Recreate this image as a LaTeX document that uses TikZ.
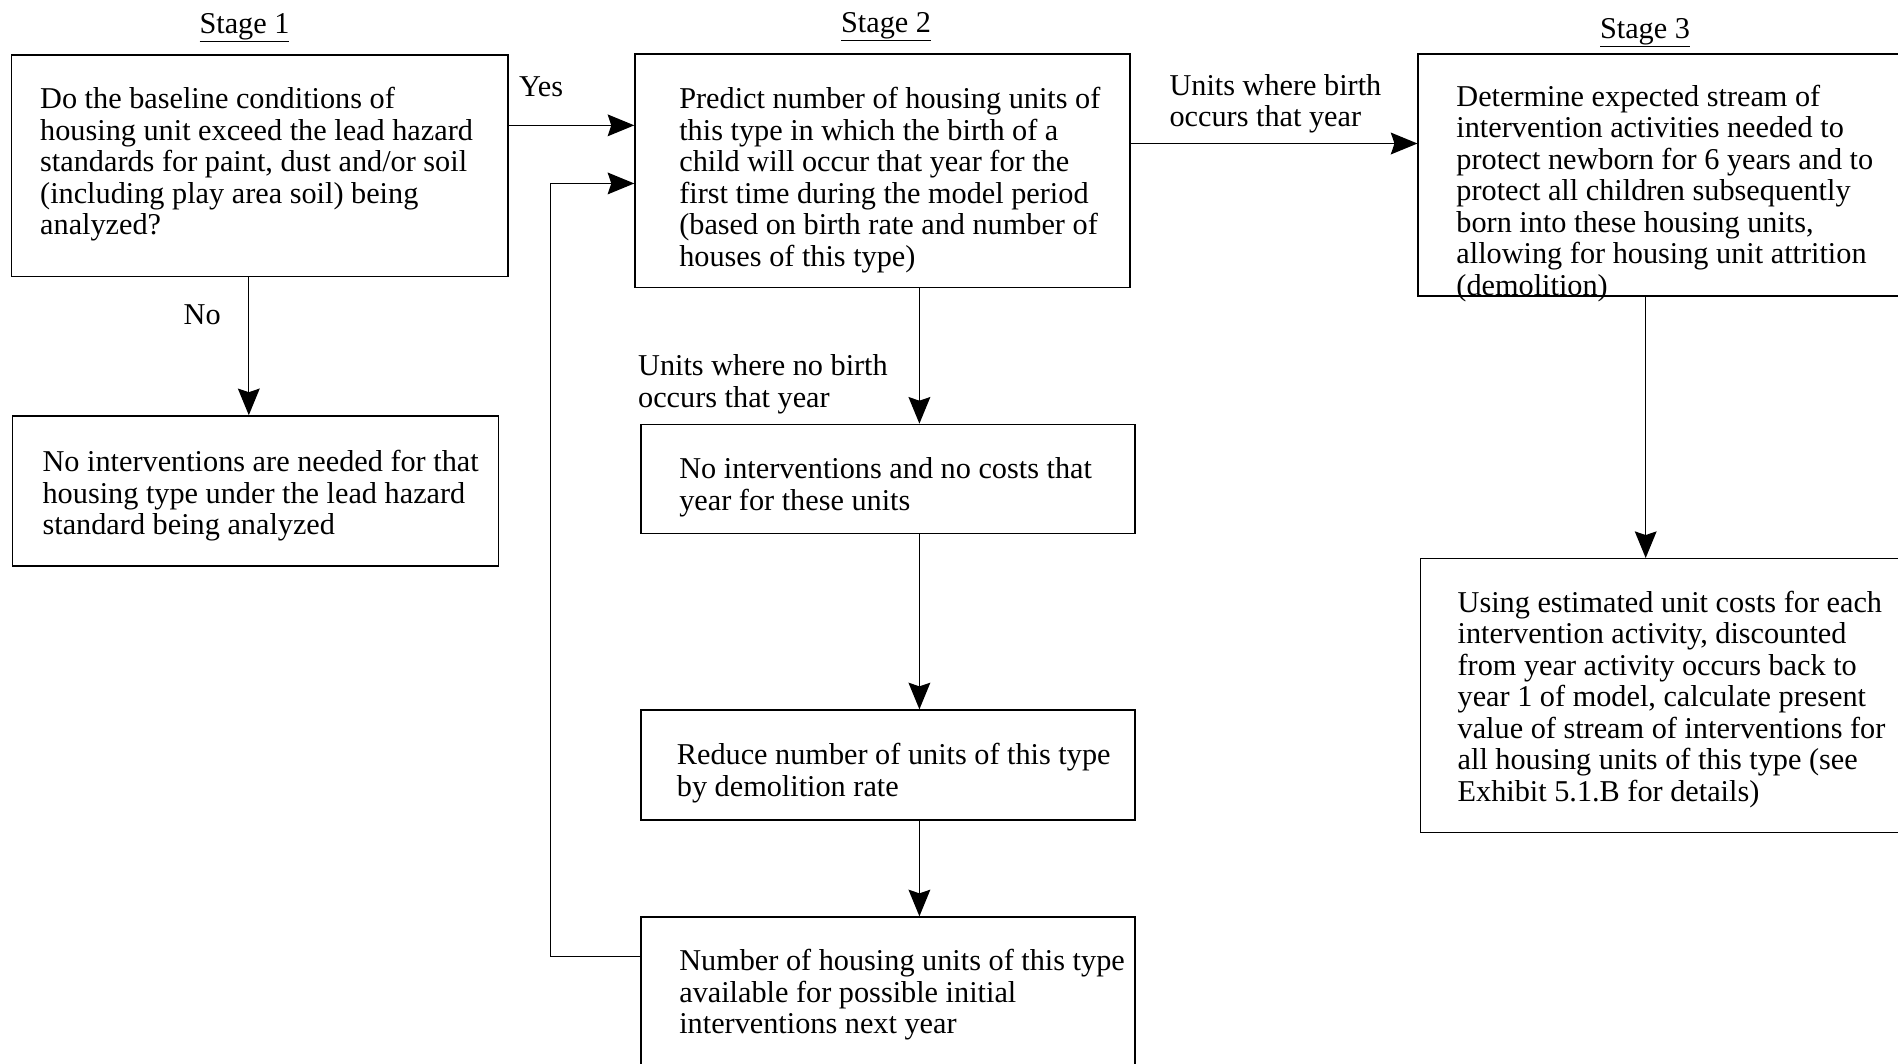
\documentclass[tikz,border=0pt]{standalone}
\usepackage{fontspec}
\setmainfont{Liberation Serif}
\usetikzlibrary{arrows.meta}

\begin{document}
\begin{tikzpicture}[x=1pt, y=-1pt,
    box/.style={draw, rectangle, line width=1.1pt, anchor=north west, inner sep=0pt},
    txt/.style={anchor=north west, align=left, inner sep=0pt, font=\fontsize{25}{26}\selectfont},
    lbl/.style={inner sep=0pt, font=\fontsize{25}{26}\selectfont},
    arr/.style={-{Stealth[length=22pt, width=18pt, inset=3pt]}, line width=1.1pt}]
    \clip (0,0) rectangle (1568,879);

    % Stage headings
    \node[lbl] (stageA) at (202,23) {\underline{Stage 1}};
    \node[lbl] (stageB) at (732,22) {\underline{Stage 2}};
    \node[lbl] (stageC) at (1359,27) {\underline{Stage 3}};

    % Stage 1
    \node[box, minimum width=410pt, minimum height=183pt] (qBox) at (9,45) {};
    \node[txt] (qTxt) at (33,72) {Do the baseline conditions of\\housing unit exceed the lead hazard\\standards for paint, dust and/or soil\\(including play area soil) being\\analyzed?};
    \node[box, minimum width=401pt, minimum height=124pt] (noneBox) at (10,343) {};
    \node[txt] (noneTxt) at (35,372) {No interventions are needed for that\\housing type under the lead hazard\\standard being analyzed};

    \draw[arr] ([xshift=-9pt]qBox.south) -- ([xshift=-9pt]qBox.south |- noneBox.north);
    \node[lbl] (noLbl) at (167,260) {No};

    % Stage 2
    \node[box, minimum width=409pt, minimum height=193pt] (predBox) at (524,44) {};
    \node[txt] (predTxt) at (561,72) {Predict number of housing units of\\this type in which the birth of a\\child will occur that year for the\\first time during the model period\\(based on birth rate and number of\\houses of this type)};
    \node[box, minimum width=408pt, minimum height=90pt] (nobirthBox) at (529,350) {};
    \node[txt] (nobirthTxt) at (561,378) {No interventions and no costs that\\year for these units};
    \node[box, minimum width=408pt, minimum height=91pt] (demoBox) at (529,586) {};
    \node[txt] (demoTxt) at (559,614) {Reduce number of units of this type\\by demolition rate};
    \node[box, minimum width=408pt, minimum height=140pt] (availBox) at (529,757) {};
    \node[txt] (availTxt) at (561,784) {Number of housing units of this type\\available for possible initial\\interventions next year};

    \draw[arr] ([yshift=33.5pt]qBox.east) -- ([yshift=33.5pt]qBox.east -| predBox.west);
    \node[lbl] (yesLbl) at (447,72) {Yes};
    \draw[arr] ([xshift=30.5pt]predBox.south) -- ([xshift=30.5pt]predBox.south |- nobirthBox.north);
    \node[txt] (nobirthLbl) at (527,293) {Units where no birth\\occurs that year};
    \draw[arr] ([xshift=26pt]nobirthBox.south) -- ([xshift=26pt]nobirthBox.south |- demoBox.north);
    \draw[arr] ([xshift=26pt]demoBox.south) -- ([xshift=26pt]demoBox.south |- availBox.north);
    % loop back to next year
    \draw[arr] ([yshift=-33pt]availBox.north west) -- ++(-74,0) |- ([yshift=-10.5pt]predBox.west);

    % Stage 3
    \node[box, minimum width=450pt, minimum height=200pt] (streamBox) at (1171,44) {};
    \node[txt] (streamTxt) at (1203,70) {Determine expected stream of\\intervention activities needed to\\protect newborn for 6 years and to\\protect all children subsequently\\born into these housing units,\\allowing for housing unit attrition\\(demolition)};
    \node[box, minimum width=450pt, minimum height=226pt] (costBox) at (1173,461) {};
    \node[txt] (costTxt) at (1204,488) {Using estimated unit costs for each\\intervention activity, discounted\\from year activity occurs back to\\year 1 of model, calculate present\\value of stream of interventions for\\all housing units of this type (see\\Exhibit 5.1.B for details)};

    \draw[arr] ([yshift=22.5pt]predBox.east) -- ([yshift=22.5pt]predBox.east -| streamBox.west);
    \node[txt] (birthLbl) at (966,61) {Units where birth\\occurs that year};
    \draw[arr] ([xshift=-37pt]streamBox.south) -- ([xshift=-37pt]streamBox.south |- costBox.north);
\end{tikzpicture}
\end{document}
